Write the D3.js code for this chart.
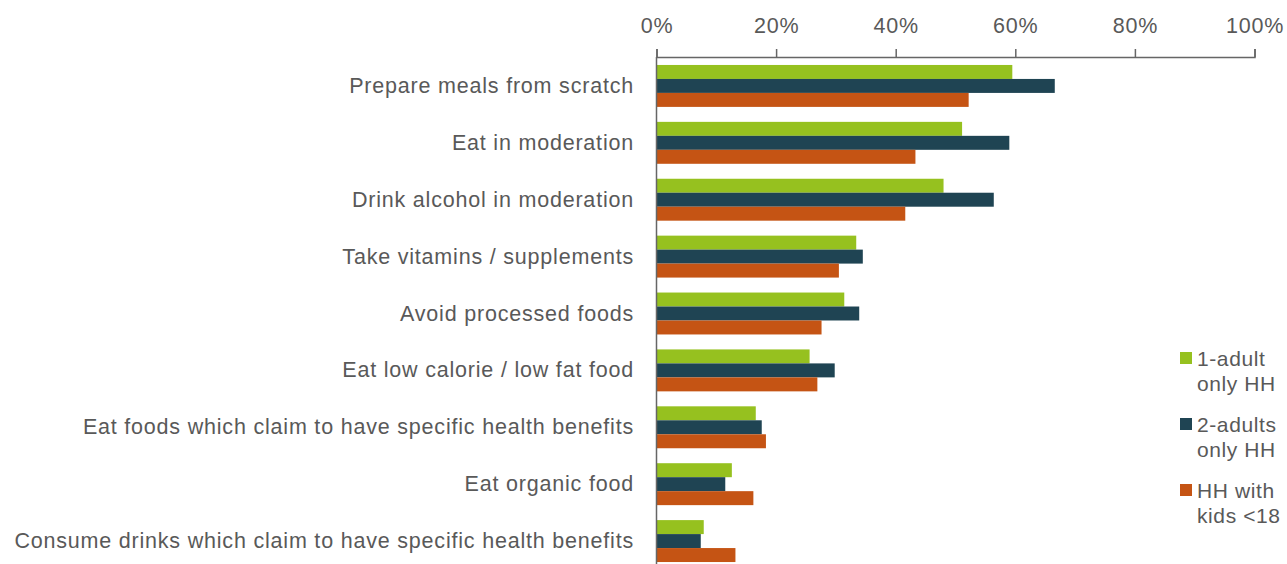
<!DOCTYPE html>
<html>
<head>
<meta charset="utf-8">
<script src="https://cdn.jsdelivr.net/npm/d3@7"></script>
<style>
  body { margin: 0; background: #fff; }
  svg text { font-family: "Liberation Sans", Arial, sans-serif; fill: #595959; letter-spacing: 0.8px; }
</style>
</head>
<body>
<svg id="chart"></svg>
<script>
// categories and series values (percent)
const categories = [
    "Prepare meals from scratch",
    "Eat in moderation",
    "Drink alcohol in moderation",
    "Take vitamins / supplements",
    "Avoid processed foods",
    "Eat low calorie / low fat food",
    "Eat foods which claim to have specific health benefits",
    "Eat organic food",
    "Consume drinks which claim to have specific health benefits"
];
const seriesNames = ["1-adult only HH", "2-adults only HH", "HH with kids <18"];
const legendLines = [["1-adult", "only HH"], ["2-adults", "only HH"], ["HH with", "kids <18"]];
const oneAdult = [59.5, 51.1, 48.0, 33.4, 31.4, 25.6, 16.6, 12.6, 7.9];
const twoAdults = [66.6, 59.0, 56.4, 34.5, 33.9, 29.8, 17.6, 11.5, 7.4];
const withKids = [52.2, 43.3, 41.6, 30.5, 27.6, 26.9, 18.3, 16.2, 13.2];
const tickValues = [0, 20, 40, 60, 80, 100];
const colors = ["#96c11f", "#1f4453", "#c55414"];

const width = 1287, height = 564;
const svg = d3.select("#chart").attr("width", width).attr("height", height);

const series = [oneAdult, twoAdults, withKids];
const data = categories.map((c, i) => ({ name: c, values: series.map(s => s[i]) }));

const x = d3.scaleLinear().domain([0, 100]).range([656.5, 1254.5]);
const y = d3.scaleBand().domain(categories).range([57, 570]).paddingInner(0.263).paddingOuter(0.14);
const yInner = d3.scaleBand().domain(d3.range(3)).range([0, y.bandwidth()]);

// top axis
const axis = svg.append("g").attr("transform", "translate(0,57)")
    .call(d3.axisTop(x).tickValues(tickValues).tickFormat(d => d + "%").tickSize(8).tickPadding(16));
axis.select(".domain").attr("stroke", "#666").attr("stroke-width", 1.5);
axis.selectAll(".tick line").attr("stroke", "#666").attr("stroke-width", 1.5);
axis.selectAll(".tick text").attr("font-size", 21.5).attr("font-family", null).style("fill", "#595959");

// bars
const groups = svg.selectAll(".grp")
    .data(data)
    .join("g")
    .attr("class", "grp")
    .attr("transform", d => `translate(0,${y(d.name)})`);

groups.selectAll("rect")
    .data(d => d.values)
    .join("rect")
    .attr("x", x(0))
    .attr("y", (d, i) => yInner(i))
    .attr("width", d => x(d) - x(0))
    .attr("height", yInner.bandwidth())
    .attr("fill", (d, i) => colors[i]);

// category labels
groups.append("text")
    .attr("x", 634)
    .attr("y", y.bandwidth() / 2)
    .attr("dy", "0.33em")
    .attr("text-anchor", "end")
    .attr("font-size", 21.5)
    .text(d => d.name);

// left axis line
svg.append("line")
    .attr("x1", x(0)).attr("x2", x(0))
    .attr("y1", 57).attr("y2", height)
    .attr("stroke", "#666").attr("stroke-width", 1.5);

// legend
const legend = svg.selectAll(".leg")
    .data(seriesNames)
    .join("g")
    .attr("class", "leg")
    .attr("transform", (d, i) => `translate(1180,${352 + i * 66})`);

legend.append("rect")
    .attr("width", 12).attr("height", 12)
    .attr("fill", (d, i) => colors[i]);

legend.append("text")
    .attr("x", 17)
    .attr("y", 14)
    .attr("font-size", 21)
    .style("letter-spacing", "0.6px")
    .selectAll("tspan")
    .data((d, i) => legendLines[i])
    .join("tspan")
    .attr("x", 17)
    .attr("dy", (d, i) => i === 0 ? 0 : 25)
    .text(d => d);
</script>
</body>
</html>
